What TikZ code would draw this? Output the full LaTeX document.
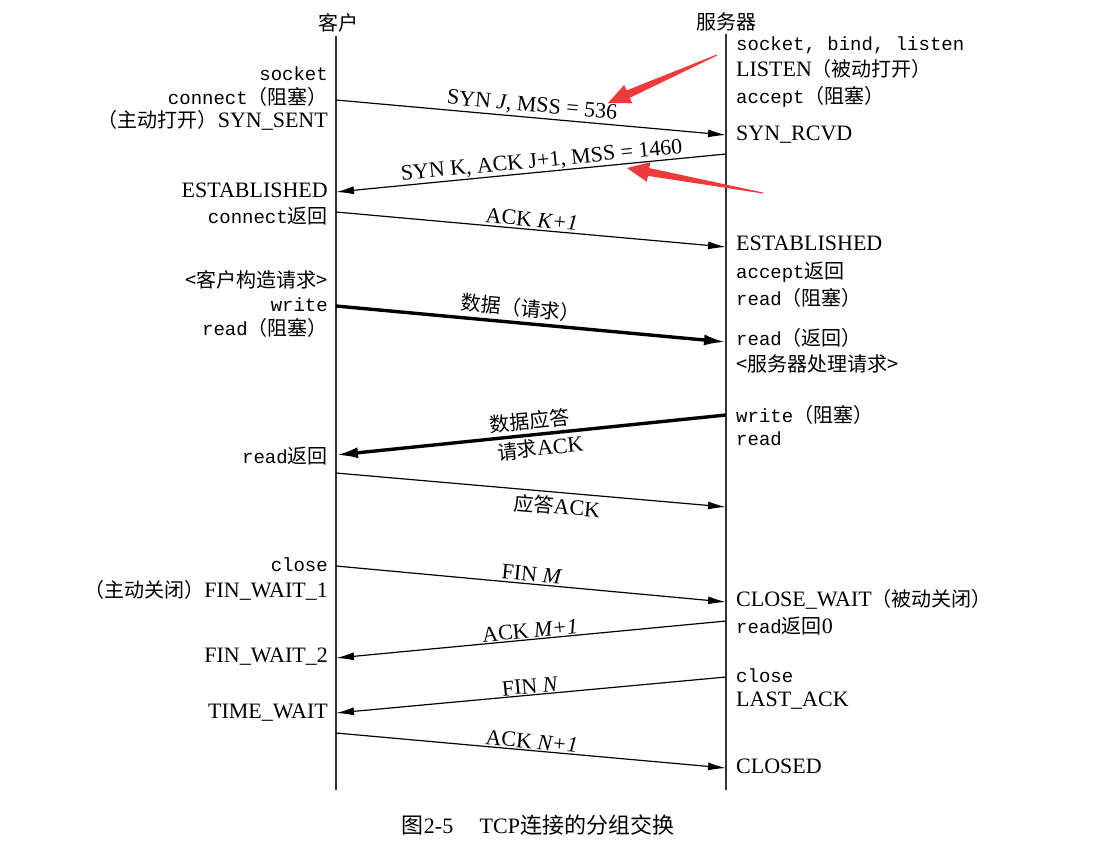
\documentclass[tikz,border=0pt]{standalone}
\usepackage{fontspec}
\setmainfont{Liberation Serif}
\setmonofont{Liberation Mono}
\newfontfamily\cjk{Noto Sans CJK SC}
\usetikzlibrary{arrows.meta}
\newcommand\zh[1]{{\cjk\fontsize{20}{24}\selectfont #1}}
\newcommand\cd[1]{{\ttfamily\fontsize{19}{24}\selectfont #1}}
\definecolor{annot}{RGB}{238,58,58}
\begin{document}
\begin{tikzpicture}[x=1pt,y=-1pt,
  base/.style={inner sep=0pt, font=\fontsize{22}{26}\selectfont},
  lt/.style={base, anchor=mid east, yshift=-3.5pt},
  rt/.style={base, anchor=mid west, yshift=-3.5pt},
  life/.style={line width=1.5pt, black!80},
  msg/.style={line width=1.2pt, -{Latex[length=18pt,width=8pt]}},
  bigmsg/.style={line width=3.4pt, -{Latex[length=22pt,width=11pt]}},
  mlab/.style={sloped, font=\fontsize{22}{26}\selectfont}
]
\fill[white] (0,0) rectangle (1115,857);
\useasboundingbox (0,0) rectangle (1115,857);

% headers and lifelines
\node[base] (hcli) at (338,23) {\zh{客户}};
\node[base] (hsrv) at (726,22) {\zh{服务器}};
\coordinate (cTop) at (336,36);
\coordinate (cBot) at (336,790);
\coordinate (sTop) at (726,34);
\coordinate (sBot) at (726,790);
\draw[life] (cTop) -- (cBot);
\draw[life] (sTop) -- (sBot);

% client labels
\node[lt] (Lsocket) at (328,75) {\cd{socket}};
\node[lt] (Lconnect) at (328,99) {\cd{connect}\zh{（阻塞）}};
\node[lt] (Lsynsent) at (328,122) {\zh{（主动打开）}SYN\_SENT};
\node[lt] (Lest) at (328,192) {ESTABLISHED};
\node[lt] (Lconret) at (328,218) {\cd{connect}\zh{返回}};
\node[lt] (Lbuild) at (328,282) {\zh{<客户构造请求>}};
\node[lt] (Lwrite) at (328,306) {\cd{write}};
\node[lt] (Lread) at (328,330) {\cd{read}\zh{（阻塞）}};
\node[lt] (Lreadret) at (328,458) {\cd{read}\zh{返回}};
\node[lt] (Lclose) at (328,566) {\cd{close}};
\node[lt] (Lfw1) at (328,592) {\zh{（主动关闭）}FIN\_WAIT\_1};
\node[lt] (Lfw2) at (328,657) {FIN\_WAIT\_2};
\node[lt] (Ltw) at (328,713) {TIME\_WAIT};

% server labels
\node[rt] (Rsock) at (736,45) {\cd{socket, bind, listen}};
\node[rt] (Rlisten) at (736,71) {LISTEN\zh{（被动打开）}};
\node[rt] (Raccept) at (736,98) {\cd{accept}\zh{（阻塞）}};
\node[rt] (Rsynrcvd) at (736,135) {SYN\_RCVD};
\node[rt] (Rest) at (736,245) {ESTABLISHED};
\node[rt] (Raccret) at (736,273) {\cd{accept}\zh{返回}};
\node[rt] (Rread1) at (736,300) {\cd{read}\zh{（阻塞）}};
\node[rt] (Rread2) at (736,340) {\cd{read}\zh{（返回）}};
\node[rt] (Rproc) at (736,366) {\zh{<服务器处理请求>}};
\node[rt] (Rwrite) at (736,417) {\cd{write}\zh{（阻塞）}};
\node[rt] (Rread3) at (736,440) {\cd{read}};
\node[rt] (Rcw) at (736,601) {CLOSE\_WAIT\zh{（被动关闭）}};
\node[rt] (Rread0) at (736,628) {\cd{read}\zh{返回}0};
\node[rt] (Rclose) at (736,677) {\cd{close}};
\node[rt] (Rla) at (736,701) {LAST\_ACK};
\node[rt] (Rclosed) at (736,768) {CLOSED};

% message end points
\coordinate (a1) at (336,100); \coordinate (b1) at (726,135);
\coordinate (b2) at (726,154); \coordinate (a2) at (336,192);
\coordinate (a3) at (336,212); \coordinate (b3) at (726,247);
\coordinate (a4) at (336,306); \coordinate (b4) at (726,342);
\coordinate (b5) at (726,415); \coordinate (a5) at (336,455);
\coordinate (a6) at (336,473); \coordinate (b6) at (726,507);
\coordinate (a7) at (336,566); \coordinate (b7) at (726,602);
\coordinate (b8) at (726,621); \coordinate (a8) at (336,658);
\coordinate (b9) at (726,677); \coordinate (a9) at (336,713);
\coordinate (a10) at (336,733); \coordinate (b10) at (726,768);

% messages
\draw[msg] (a1) -- node[mlab,above,inner sep=2pt] (m1) {SYN \textit{J}, MSS = 536} (b1);
\draw[msg] (b2) -- node[mlab,above,inner sep=1pt,pos=0.47] (m2) {SYN K, ACK J+1, MSS = 1460} (a2);
\draw[msg] (a3) -- node[mlab,above,inner sep=2pt] (m3) {ACK \textit{K+1}} (b3);
\draw[bigmsg] (a4) -- node[mlab,above,inner sep=4pt,pos=0.47] (m4) {\zh{数据（请求）}} (b4);
\draw[bigmsg] (b5) -- node[mlab,above,inner sep=3pt] (m5a) {\zh{数据应答}}
                      node[mlab,below,inner sep=3pt,pos=0.48] (m5b) {\zh{请求}ACK} (a5);
\draw[msg] (a6) -- node[mlab,below,inner sep=4pt,pos=0.57] (m6) {\zh{应答}ACK} (b6);
\draw[msg] (a7) -- node[mlab,above,inner sep=2pt] (m7) {FIN \textit{M}} (b7);
\draw[msg] (b8) -- node[mlab,above,inner sep=1pt] (m8) {ACK \textit{M+1}} (a8);
\draw[msg] (b9) -- node[mlab,above,inner sep=1pt] (m9) {FIN \textit{N}} (a9);
\draw[msg] (a10) -- node[mlab,above,inner sep=1pt] (m10) {ACK \textit{N+1}} (b10);

% red annotation arrows
\fill[annot] (608,103) -- (632.2,103.3) -- (629.8,97.8) -- (717.2,55.5) -- (716.8,54.5) -- (626.6,90.4) -- (624.2,84.9) -- cycle;
\fill[annot] (627,168) -- (646.8,181.8) -- (647.9,175.9) -- (762.9,193.5) -- (763.1,192.5) -- (649.3,168.1) -- (650.4,162.2) -- cycle;

% caption
\node[base, font=\fontsize{22}{26}\selectfont] (cap) at (538,825) {{\cjk 图}2-5\hspace{1.2em}TCP{\cjk 连接的分组交换}};
\end{tikzpicture}
\end{document}
